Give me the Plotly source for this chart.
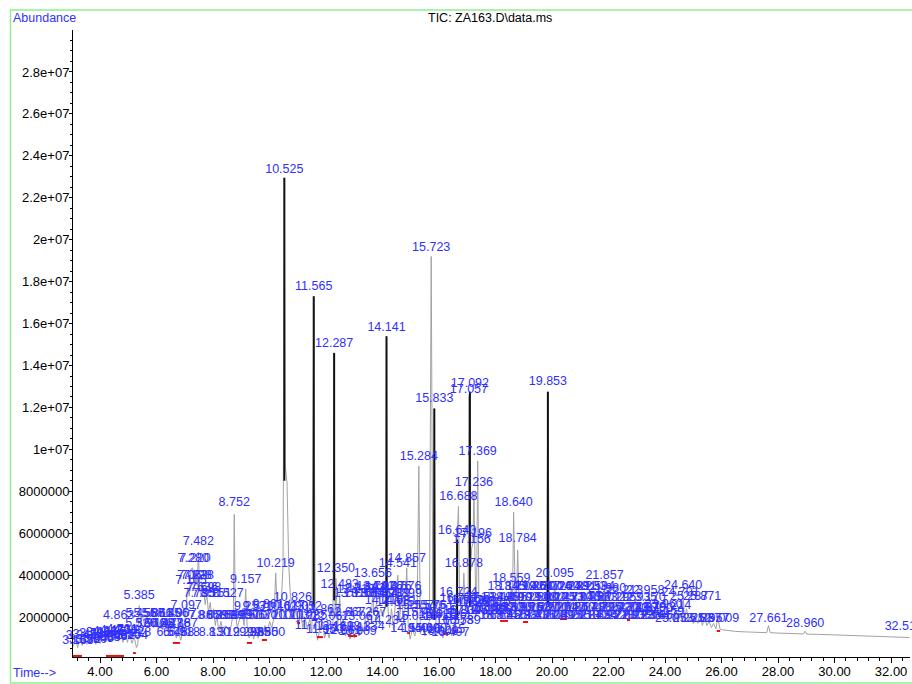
import plotly.graph_objects as go

FONT = "Liberation Sans, Arial, sans-serif"
BLUE = "#3030ff"

# ---------------- TIC trace (time in min, abundance in millions) ----------------
tic_time = [
    3.05, 3.13, 3.21, 3.29, 3.37, 3.45, 3.53, 3.61, 3.69, 3.77,
    3.85, 3.93, 4.01, 4.09, 4.17, 4.25, 4.33, 4.41, 4.49, 4.57,
    4.65, 4.73, 4.81, 4.89, 4.97, 5.05, 5.13, 5.21, 5.29, 5.34,
    5.385, 5.43, 5.50, 5.58, 5.66, 5.74, 5.82, 5.90, 5.98, 6.06,
    6.14, 6.22, 6.30, 6.38, 6.46, 6.54, 6.62, 6.70, 6.78, 6.86,
    6.94, 7.02, 7.10, 7.16, 7.22, 7.28, 7.34, 7.40, 7.44, 7.482,
    7.53, 7.60, 7.66, 7.72, 7.78, 7.84, 7.90, 7.96, 8.02, 8.08,
    8.14, 8.20, 8.28, 8.36, 8.44, 8.52, 8.60, 8.68, 8.72, 8.752,
    8.79, 8.86, 8.94, 9.02, 9.10, 9.157, 9.21, 9.28, 9.36, 9.44,
    9.52, 9.60, 9.68, 9.76, 9.84, 9.92, 10.00, 10.08, 10.16, 10.219,
    10.27, 10.35, 10.42, 10.48, 10.525, 10.56, 10.62, 10.68, 10.74, 10.79,
    10.826, 10.87, 10.94, 11.02, 11.10, 11.18, 11.26, 11.34, 11.42, 11.50,
    11.565, 11.62, 11.70, 11.78, 11.87, 11.95, 12.03, 12.11, 12.19, 12.24,
    12.287, 12.32, 12.350, 12.40, 12.45, 12.483, 12.53, 12.61, 12.69, 12.77,
    12.85, 12.93, 13.01, 13.09, 13.17, 13.25, 13.33, 13.41, 13.49, 13.57,
    13.62, 13.656, 13.70, 13.78, 13.86, 13.94, 14.02, 14.10, 14.141, 14.18,
    14.25, 14.32, 14.39, 14.46, 14.541, 14.60, 14.67, 14.74, 14.80, 14.857,
    14.91, 14.98, 15.06, 15.14, 15.22, 15.284, 15.34, 15.42, 15.50, 15.58,
    15.66, 15.723, 15.78, 15.833, 15.89, 15.97, 16.05, 16.13, 16.21, 16.29,
    16.37, 16.45, 16.53, 16.59, 16.640, 16.688, 16.73, 16.79, 16.84, 16.878,
    16.93, 16.99, 17.03, 17.057, 17.092, 17.12, 17.156, 17.196, 17.236, 17.29,
    17.33, 17.369, 17.41, 17.48, 17.56, 17.64, 17.72, 17.80, 17.88, 17.96,
    18.04, 18.12, 18.20, 18.28, 18.345, 18.42, 18.50, 18.559, 18.60, 18.640,
    18.70, 18.74, 18.784, 18.84, 18.92, 19.00, 19.08, 19.16, 19.24, 19.32,
    19.40, 19.48, 19.56, 19.64, 19.72, 19.80, 19.853, 19.91, 19.98, 20.04,
    20.095, 20.16, 20.24, 20.32, 20.40, 20.48, 20.56, 20.64, 20.72, 20.80,
    20.88, 20.96, 21.04, 21.12, 21.20, 21.28, 21.36, 21.44, 21.52, 21.60,
    21.68, 21.76, 21.82, 21.857, 21.90, 21.98, 22.06, 22.14, 22.22, 22.30,
    22.38, 22.46, 22.54, 22.62, 22.70, 22.78, 22.86, 22.94, 23.02, 23.10,
    23.18, 23.26, 23.34, 23.42, 23.50, 23.58, 23.66, 23.74, 23.82, 23.90,
    23.98, 24.06, 24.14, 24.22, 24.30, 24.38, 24.46, 24.54, 24.60, 24.640,
    24.69, 24.76, 24.84, 24.92, 25.00, 25.08, 25.16, 25.24, 25.32, 25.40,
    25.48, 25.56, 25.64, 25.72, 25.80, 25.871, 25.94, 26.02, 26.20, 26.50,
    26.80, 27.10, 27.40, 27.60, 27.661, 27.72, 28.00, 28.40, 28.80, 28.90,
    28.960, 29.02, 29.40, 29.80, 30.20, 30.60, 31.00, 31.40, 31.80, 32.20, 32.65,
]
tic_abund_m = [
    0.60, 0.95, 0.55, 1.05, 0.65, 1.10, 0.70, 1.15, 0.75, 1.25,
    0.70, 1.20, 0.75, 1.30, 0.80, 1.35, 0.85, 1.45, 0.90, 1.40,
    0.85, 1.35, 0.80, 1.25, 0.80, 1.20, 0.75, 1.05, 0.55, 0.70,
    2.55, 1.80, 2.10, 1.60, 2.05, 1.55, 1.95, 1.50, 1.90, 1.45,
    1.85, 1.40, 1.80, 1.35, 1.75, 1.30, 1.60, 1.00, 1.30, 0.90,
    1.40, 2.00, 3.40, 3.00, 4.30, 4.35, 3.40, 3.90, 3.50, 5.10,
    3.30, 3.00, 3.50, 2.60, 3.10, 2.20, 2.70, 2.00, 2.40, 1.60,
    2.10, 1.30, 1.80, 1.20, 1.60, 1.50, 1.30, 1.90, 2.20, 6.90,
    2.20, 1.50, 1.90, 2.30, 1.60, 3.35, 1.50, 1.00, 1.35, 0.95,
    1.40, 1.00, 1.50, 1.10, 1.60, 1.20, 1.80, 1.50, 2.00, 4.10,
    2.30, 2.60, 2.80, 4.50, 22.95, 9.20, 8.40, 4.50, 3.00, 2.60,
    2.50, 1.90, 2.50, 1.60, 2.20, 1.50, 2.00, 1.40, 1.90, 1.30,
    17.30, 1.50, 0.90, 1.40, 1.80, 1.00, 1.40, 1.00, 1.50, 1.30,
    14.60, 2.00, 3.85, 1.60, 2.00, 3.10, 1.40, 1.90, 1.10, 1.60,
    0.95, 1.45, 1.00, 1.50, 1.10, 1.70, 1.30, 2.10, 1.80, 2.50,
    2.20, 3.60, 2.10, 2.60, 2.00, 2.40, 2.00, 2.60, 15.40, 2.60,
    1.50, 2.40, 1.40, 2.80, 4.00, 1.80, 2.90, 2.00, 2.40, 4.35,
    1.50, 0.95, 1.50, 1.10, 1.60, 9.20, 1.20, 1.70, 1.10, 1.60,
    1.80, 19.20, 2.60, 11.95, 1.50, 1.20, 1.60, 1.00, 1.50, 1.10,
    1.50, 1.10, 1.60, 1.30, 5.70, 7.30, 2.70, 2.40, 2.60, 4.10,
    2.30, 3.00, 3.20, 12.50, 12.75, 4.20, 5.30, 5.50, 7.95, 3.40,
    3.00, 9.45, 2.90, 2.50, 2.90, 2.40, 2.80, 2.40, 2.70, 2.30,
    2.70, 2.30, 2.80, 2.40, 3.00, 2.50, 2.60, 3.40, 2.80, 7.00,
    2.70, 2.90, 5.20, 2.40, 2.60, 2.20, 2.60, 2.20, 2.60, 2.30,
    2.70, 2.30, 2.60, 2.30, 2.60, 2.30, 12.75, 2.40, 2.70, 2.50,
    3.60, 2.40, 2.80, 2.30, 2.70, 2.40, 2.80, 2.30, 2.70, 2.30,
    2.70, 2.30, 2.60, 2.30, 2.70, 2.30, 2.60, 2.30, 2.70, 2.30,
    2.60, 2.30, 2.50, 3.50, 2.40, 2.70, 2.30, 2.60, 2.20, 2.60,
    2.20, 2.50, 2.20, 2.50, 2.20, 2.50, 2.20, 2.80, 2.20, 2.50,
    2.10, 2.40, 2.10, 2.40, 2.00, 2.30, 2.00, 2.30, 1.90, 2.20,
    1.90, 2.20, 1.80, 2.10, 1.80, 2.10, 1.80, 2.10, 1.90, 3.00,
    1.90, 2.40, 1.80, 2.10, 1.70, 2.00, 1.70, 2.20, 1.60, 2.00,
    1.60, 1.80, 1.50, 1.70, 1.45, 2.00, 1.45, 1.40, 1.36, 1.32,
    1.30, 1.28, 1.26, 1.26, 1.60, 1.26, 1.24, 1.22, 1.20, 1.20,
    1.33, 1.19, 1.18, 1.16, 1.14, 1.12, 1.10, 1.08, 1.06, 1.04, 1.03,
]

# ---------------- labelled peaks (retention time, abundance in millions) ----------------
peak_label_text = [
    "10.525", "11.565", "12.287", "14.141", "15.723", "15.833", "17.092", "17.057",
    "19.853", "15.284", "17.369", "17.236", "16.688", "18.640", "18.784", "16.640",
    "17.196", "17.156", "16.878", "14.857", "14.541", "13.656", "12.350", "12.483",
    "8.752", "7.482", "7.280", "7.220", "10.219", "9.157", "5.385", "10.826",
    "18.559", "20.095", "21.857", "24.640", "27.661", "28.960", "32.512",
]
peak_label_time = [
    10.525, 11.565, 12.287, 14.141, 15.723, 15.833, 17.092, 17.057,
    19.853, 15.284, 17.369, 17.236, 16.688, 18.640, 18.784, 16.640,
    17.196, 17.156, 16.878, 14.857, 14.541, 13.656, 12.350, 12.483,
    8.752, 7.482, 7.300, 7.360, 10.219, 9.157, 5.385, 10.826,
    18.559, 20.095, 21.857, 24.640, 27.661, 28.960, 32.450,
]
peak_label_abund_m = [
    23.05, 17.45, 14.75, 15.50, 19.30, 12.10, 12.85, 12.55,
    12.90, 9.35, 9.60, 8.10, 7.45, 7.15, 5.45, 5.80,
    5.65, 5.40, 4.25, 4.50, 4.25, 3.75, 4.00, 3.25,
    7.15, 5.30, 4.50, 4.50, 4.25, 3.50, 2.70, 2.60,
    3.55, 3.75, 3.65, 3.20, 1.63, 1.36, 1.24,
]

# ---------------- crowded small-peak labels (text, time, abundance in millions) ----------------
crowded_labels = [
    ("3.163", 3.22, 0.55), ("3.245", 3.34, 0.80), ("3.372", 3.46, 0.60), ("3.488", 3.58, 0.85),
    ("3.590", 3.70, 0.62), ("3.712", 3.82, 0.90), ("3.845", 3.94, 0.65), ("3.967", 4.06, 0.95),
    ("4.088", 4.18, 0.70), ("4.215", 4.30, 1.00), ("4.346", 4.42, 0.75), ("4.471", 4.54, 1.05),
    ("4.602", 4.66, 0.80), ("4.731", 4.78, 1.10), ("4.863", 4.66, 1.75), ("4.855", 4.90, 0.85),
    ("4.982", 5.02, 1.05), ("5.104", 5.14, 0.80), ("5.228", 5.26, 0.95), ("5.320", 5.45, 1.38),
    ("5.455", 5.46, 1.86), ("5.587", 5.74, 1.86), ("5.861", 6.02, 1.86), ("6.135", 6.31, 1.86),
    ("6.406", 6.59, 1.86), ("6.907", 6.87, 1.86), ("5.912", 5.80, 1.38), ("6.188", 6.10, 1.38),
    ("6.447", 6.38, 1.38), ("6.716", 6.66, 1.38), ("6.887", 6.90, 1.38), ("6.548", 6.55, 0.95),
    ("6.758", 6.78, 0.95), ("6.918", 6.98, 0.95),
    ("7.062", 7.28, 3.67), ("7.128", 7.40, 3.67), ("7.238", 7.48, 3.67), ("7.105", 7.22, 3.45),
    ("7.636", 7.62, 3.10), ("7.698", 7.74, 3.10), ("7.735", 7.51, 2.80), ("7.951", 7.80, 2.80),
    ("8.151", 8.10, 2.80), ("8.527", 8.53, 2.80), ("7.097", 7.05, 2.24), ("7.865", 7.68, 1.76),
    ("8.039", 8.00, 1.76), ("8.268", 8.31, 1.76), ("8.595", 8.63, 1.76), ("8.130", 8.05, 0.95),
    ("8.312", 8.40, 0.95),
    ("8.995", 8.80, 1.76), ("9.297", 9.10, 1.76), ("9.503", 9.45, 1.76), ("9.672", 9.78, 1.76),
    ("10.010", 10.10, 1.76), ("9.253", 9.30, 2.20), ("9.570", 9.60, 2.20), ("9.861", 9.95, 2.30),
    ("9.293", 9.25, 0.95), ("9.385", 9.48, 0.95), ("9.650", 9.75, 0.95), ("9.850", 10.00, 0.95),
    ("10.623", 10.55, 2.20), ("10.901", 10.95, 2.20), ("11.052", 11.20, 2.20), ("10.703", 10.75, 1.76),
    ("11.102", 11.10, 1.76), ("11.285", 11.38, 1.76),
    ("11.867", 11.87, 2.05), ("12.067", 12.15, 1.70), ("12.667", 12.72, 1.90), ("13.067", 13.22, 1.70),
    ("13.267", 13.45, 1.90), ("11.712", 11.55, 1.30), ("11.950", 11.95, 1.10), ("12.169", 12.30, 1.25),
    ("12.561", 12.58, 1.05), ("12.811", 12.88, 1.20), ("13.009", 13.12, 1.00), ("13.334", 13.40, 1.25),
    ("13.219", 13.05, 3.00), ("13.512", 13.42, 3.05), ("13.015", 12.95, 2.80), ("13.389", 13.30, 2.80),
    ("13.605", 13.62, 2.80),
    ("13.781", 13.75, 3.14), ("14.076", 14.05, 3.14), ("14.376", 14.35, 3.14), ("14.676", 14.70, 3.14),
    ("13.898", 14.00, 2.80), ("14.289", 14.30, 2.80), ("14.899", 14.72, 2.80), ("14.219", 14.05, 2.48),
    ("14.681", 14.55, 2.48), ("14.615", 14.45, 2.38), ("15.157", 15.15, 2.24), ("15.576", 15.55, 2.24),
    ("15.761", 15.85, 2.24), ("14.234", 14.15, 1.52), ("14.940", 14.95, 1.14), ("15.400", 15.35, 1.14),
    ("15.600", 15.60, 1.14), ("15.038", 15.10, 1.70), ("15.401", 15.45, 1.90), ("15.928", 15.95, 1.80),
    ("16.112", 16.10, 1.70), ("16.316", 16.30, 1.80), ("16.009", 16.02, 1.00), ("16.215", 16.25, 1.10),
    ("16.497", 16.40, 0.95),
    ("16.724", 16.68, 2.86), ("16.771", 16.70, 2.57), ("16.972", 16.92, 2.48), ("17.124", 17.10, 2.48),
    ("17.245", 17.30, 2.38), ("17.412", 17.45, 2.38), ("16.834", 16.82, 2.00), ("17.005", 17.05, 2.00),
    ("17.513", 17.55, 2.00), ("17.712", 17.72, 2.00), ("17.856", 17.90, 2.00), ("16.553", 16.55, 1.52),
    ("16.789", 16.80, 1.52), ("17.534", 17.62, 2.60), ("17.815", 17.85, 2.45),
    ("18.345", 18.39, 3.14), ("18.712", 18.75, 3.14), ("19.042", 19.05, 3.14), ("19.361", 19.35, 3.14),
    ("19.617", 19.62, 3.14), ("20.014", 20.00, 3.14), ("20.260", 20.30, 3.14), ("20.748", 20.60, 3.14),
    ("20.891", 20.90, 3.14), ("21.233", 21.25, 3.14), ("21.584", 21.55, 3.14), ("21.980", 21.95, 3.05),
    ("18.195", 18.15, 2.62), ("18.495", 18.45, 2.62), ("18.902", 18.85, 2.62), ("19.212", 19.20, 2.62),
    ("19.503", 19.50, 2.62), ("19.802", 19.80, 2.62), ("20.125", 20.15, 2.62), ("20.433", 20.45, 2.62),
    ("20.730", 20.75, 2.62), ("21.040", 21.05, 2.62), ("21.352", 21.35, 2.62), ("21.663", 21.65, 2.62),
    ("22.011", 22.00, 2.62), ("22.295", 22.30, 2.62), ("22.935", 23.05, 2.62), ("23.170", 23.35, 2.62),
    ("22.958", 23.30, 2.95), ("22.213", 22.55, 2.95),
    ("18.012", 18.00, 2.15), ("18.330", 18.30, 2.15), ("18.620", 18.60, 2.15), ("18.951", 18.95, 2.15),
    ("19.262", 19.25, 2.15), ("19.587", 19.55, 2.15), ("19.910", 19.90, 2.15), ("20.221", 20.20, 2.15),
    ("20.547", 20.50, 2.15), ("20.860", 20.85, 2.15), ("21.171", 21.15, 2.15), ("21.488", 21.45, 2.15),
    ("21.795", 21.80, 2.15), ("22.102", 22.10, 2.15), ("22.420", 22.40, 2.15), ("22.743", 22.75, 2.15),
    ("23.060", 23.05, 2.15), ("23.379", 23.35, 2.15), ("23.700", 23.60, 2.10),
    ("17.662", 17.60, 1.76), ("18.104", 18.10, 1.76), ("18.455", 18.45, 1.76), ("18.788", 18.80, 1.76),
    ("19.120", 19.10, 1.76), ("19.436", 19.45, 1.76), ("19.772", 19.75, 1.76), ("20.089", 20.10, 1.76),
    ("20.405", 20.40, 1.76), ("20.705", 20.70, 1.76), ("21.018", 21.00, 1.76), ("21.342", 21.35, 1.76),
    ("21.654", 21.65, 1.76), ("21.952", 21.95, 1.76), ("22.278", 22.25, 1.76), ("22.603", 22.60, 1.76),
    ("22.912", 22.90, 1.76), ("23.233", 23.20, 1.76), ("23.541", 23.55, 1.76), ("23.866", 23.85, 1.76),
    ("24.701", 24.55, 2.86), ("25.287", 24.85, 2.67), ("25.871", 25.31, 2.67), ("23.960", 23.95, 2.30),
    ("24.214", 24.25, 2.24), ("24.159", 24.00, 1.95), ("25.073", 24.32, 1.62), ("25.712", 24.95, 1.62),
    ("25.837", 25.30, 1.62), ("25.957", 25.60, 1.62), ("26.009", 25.95, 1.62),
]

# ---------------- dominant peaks drawn dark (time, foot, top in millions) ----------------
dark_peak_time = [10.525, 11.565, 12.287, 14.141, 15.833, 16.640, 17.092, 19.853]
dark_peak_foot_m = [8.5, 2.5, 2.8, 2.5, 1.9, 1.9, 2.5, 2.6]
dark_peak_top_m = [22.95, 17.30, 14.60, 15.40, 11.95, 5.70, 12.75, 12.75]

# ---------------- integration baseline marks (start, end, level in millions) ----------------
base_mark_start = [3.04, 4.21, 5.17, 6.58, 9.20, 9.73, 10.97, 11.68, 12.78, 14.87, 16.14, 16.46, 18.16, 18.97, 20.28, 22.65, 25.83]
base_mark_end = [3.36, 4.85, 5.27, 6.83, 9.38, 9.91, 11.08, 11.89, 13.10, 14.97, 16.32, 16.64, 18.44, 19.15, 20.53, 22.76, 25.95]
base_mark_level_m = [0.15, 0.15, 0.29, 0.77, 0.77, 0.91, 1.72, 1.05, 1.10, 1.24, 1.20, 1.34, 1.82, 1.77, 1.91, 1.86, 1.34]

# ---------------- axis ticks ----------------
x_tick_values = [4, 6, 8, 10, 12, 14, 16, 18, 20, 22, 24, 26, 28, 30, 32]
x_tick_text = ["4.00", "6.00", "8.00", "10.00", "12.00", "14.00", "16.00", "18.00",
               "20.00", "22.00", "24.00", "26.00", "28.00", "30.00", "32.00"]
y_tick_values_m = [2, 4, 6, 8, 10, 12, 14, 16, 18, 20, 22, 24, 26, 28]
y_tick_text = ["2000000", "4000000", "6000000", "8000000", "1e+07", "1.2e+07", "1.4e+07",
               "1.6e+07", "1.8e+07", "2e+07", "2.2e+07", "2.4e+07", "2.6e+07", "2.8e+07"]

M = 1e6
fig = go.Figure()

fig.add_trace(go.Scatter(
    x=tic_time, y=[v * M for v in tic_abund_m], mode="lines",
    line=dict(color="#a2a2a2", width=1), hoverinfo="skip"))

dx, dy = [], []
for t, f, p in zip(dark_peak_time, dark_peak_foot_m, dark_peak_top_m):
    dx += [t, t, None]
    dy += [f * M, p * M, None]
fig.add_trace(go.Scatter(x=dx, y=dy, mode="lines", line=dict(color="#111111", width=2), hoverinfo="skip"))

rx, ry = [], []
for a, b, lv in zip(base_mark_start, base_mark_end, base_mark_level_m):
    rx += [a, b, None]
    ry += [lv * M, lv * M, None]
fig.add_trace(go.Scatter(x=rx, y=ry, mode="lines", line=dict(color="#e81010", width=2), hoverinfo="skip"))

ct, cx, cy = zip(*crowded_labels)
fig.add_trace(go.Scatter(
    x=list(cx), y=[v * M for v in cy], text=list(ct), mode="text", textposition="top center",
    textfont=dict(family=FONT, size=12.5, color=BLUE), cliponaxis=False, hoverinfo="skip"))

fig.add_trace(go.Scatter(
    x=peak_label_time, y=[v * M for v in peak_label_abund_m], text=peak_label_text,
    mode="text", textposition="top center",
    textfont=dict(family=FONT, size=12.5, color=BLUE), cliponaxis=False, hoverinfo="skip"))

# ---------------- layout ----------------
W, H = 912, 684
L, R, T, B = 73, 2, 30, 27
PW, PH = W - L - R, H - T - B

def px_x(p):
    return (p - L) / PW

def px_y(p):
    return (H - B - p) / PH

x_minor = [round(3.2 + 0.4 * i, 2) for i in range(74)]
y_minor = [0.5 * M * i for i in range(1, 60)]

fig.update_layout(
    width=W, height=H, margin=dict(l=L, r=R, t=T, b=B),
    paper_bgcolor="white", plot_bgcolor="white", showlegend=False,
    font=dict(family=FONT, size=13, color="black"),
    xaxis=dict(range=[3.044, 32.67], showline=True, linecolor="black", linewidth=1,
               ticks="outside", ticklen=5, tickcolor="black", tickwidth=1,
               tickmode="array", tickvals=x_tick_values, ticktext=x_tick_text,
               ticklabelstandoff=-3,
               showgrid=False, zeroline=False, tickfont=dict(family=FONT, size=13, color="black"),
               minor=dict(tickmode="array", tickvals=x_minor, ticks="outside", ticklen=3,
                          tickcolor="black", showgrid=False)),
    yaxis=dict(range=[0.1 * M, 30.0 * M], showline=True, linecolor="black", linewidth=1,
               ticks="outside", ticklen=3, tickcolor="black", tickwidth=1,
               tickmode="array", tickvals=[v * M for v in y_tick_values_m], ticktext=y_tick_text,
               ticklabelstandoff=-3,
               showgrid=False, zeroline=False, tickfont=dict(family=FONT, size=13, color="black"),
               minor=dict(tickmode="array", tickvals=y_minor, ticks="outside", ticklen=2,
                          tickcolor="black", showgrid=False)),
    shapes=[dict(type="rect", xref="paper", yref="paper",
                 x0=px_x(10.5), x1=px_x(916), y0=px_y(683), y1=px_y(10),
                 line=dict(color="#8ef08e", width=1.5), fillcolor="rgba(0,0,0,0)", layer="below")],
    annotations=[
        dict(text="Abundance", xref="paper", yref="paper", x=px_x(11), y=px_y(17.5),
             xanchor="left", yanchor="middle", showarrow=False,
             font=dict(family=FONT, size=12.5, color=BLUE)),
        dict(text="TIC: ZA163.D\\data.ms", xref="paper", yref="paper", x=px_x(490), y=px_y(17.5),
             xanchor="center", yanchor="middle", showarrow=False,
             font=dict(family=FONT, size=12.5, color="black")),
        dict(text="Time-->", xref="paper", yref="paper", x=px_x(11), y=px_y(673),
             xanchor="left", yanchor="middle", showarrow=False,
             font=dict(family=FONT, size=12.5, color=BLUE)),
    ],
)

fig.write_html("out.html")
